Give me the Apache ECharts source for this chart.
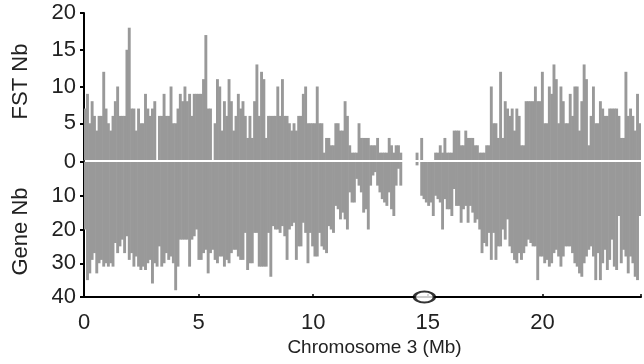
<!DOCTYPE html>
<html><head><meta charset="utf-8">
<script src="https://cdn.jsdelivr.net/npm/echarts@6/dist/echarts.min.js"></script>
<style>html,body{margin:0;padding:0;background:#fff}#c{width:644px;height:364px}</style>
</head><body><div id="c"></div>
<script>
// FST count per 100 kb bin (top panel)
const fstNb = [
7,9,5,8,6,4,6,6,12,7, 5,4,6,8,10,6,6,6,15,18, 7,7,4,7,5,5,9,7,6,7,
8,0,6,6,9,6,6,10,5,5, 7,9,8,10,8,9,6,9,9,9, 9,11,17,7,7,0,5,11,10,4,
8,6,11,8,4,6,9,7,8,6, 3,6,3,8,13,6,12,11,3,6, 6,6,6,10,6,11,6,6,5,4,
5,4,6,6,9,10,5,5,5,5, 10,5,5,1,3,3,2,2,5,5, 4,4,8,6,2,1,1,1,5,3,
3,3,3,2,2,2,3,1,1,1, 1,3,2,1,2,2,1,0,0,0, 0,0,0,1,0,3,0,0,0,0,
0,1,1,2,1,3,1,1,1,4, 4,4,2,2,4,3,3,3,2,2, 1,1,1,2,2,10,5,5,3,12,
3,8,7,6,7,4,7,6,2,2, 8,8,8,8,10,8,8,12,5,5, 10,9,13,11,5,10,8,5,5,9,
6,10,10,4,8,13,11,2,6,10, 5,5,8,7,6,6,7,7,7,7, 6,3,3,12,6,7,6,4,9,5
];
// Gene count per 100 kb bin (bottom panel, drawn downward)
const geneNb = [
20,35,33,29,27,33,30,29,31,30, 31,30,31,24,27,25,23,27,22,29, 27,31,28,31,32,31,32,30,29,36,
30,31,25,31,30,27,29,28,30,38, 31,23,23,23,23,31,23,22,20,29, 29,27,26,33,27,26,29,30,28,28,
31,29,30,27,26,26,28,29,29,21, 32,30,30,21,21,31,31,31,31,21, 34,19,20,20,21,19,22,29,20,19,
18,29,25,25,18,21,30,21,25,28, 28,21,25,26,27,19,20,21,13,14, 17,15,17,20,9,12,12,5,7,9,
15,14,20,7,4,3,7,9,11,12, 13,9,14,16,7,2,7,0,0,0, 0,0,0,1,0,10,11,12,13,12,
16,10,11,12,20,11,14,14,16,8, 13,13,18,14,13,18,13,15,18,17, 20,27,24,25,21,29,21,29,25,25,
20,23,17,25,27,29,30,27,29,27, 25,23,24,25,25,35,28,28,30,29, 31,30,27,26,28,31,28,25,25,25,
27,30,31,33,34,30,28,26,25,28, 35,27,35,30,26,32,29,23,31,32, 16,30,26,28,33,28,30,34,35,16
];
const binSizeMb = 0.1;
const bins = fstNb.map((_, i) => (i * binSizeMb).toFixed(1));
const xTicksMb = [0, 5, 10, 15, 20];
const xMaxMb = 24.3;
const fstTicks = [0, 5, 10, 15, 20];
const geneTicks = [0, 10, 20, 30, 40];
const centromereMb = [14.85];

const FONT = 'Liberation Sans, Arial, sans-serif';
const TXT = '#222';
const BAR = '#999999';

const chart = echarts.init(document.getElementById('c'), null, {renderer: 'canvas'});
chart.setOption({
  animation: false,
  backgroundColor: '#fff',
  grid: [
    {left: 84, right: 3, top: 13, height: 147},
    {left: 84, right: 3, top: 162, height: 135}
  ],
  xAxis: [
    {type: 'category', gridIndex: 0, data: bins, show: false, boundaryGap: true},
    {type: 'category', gridIndex: 1, data: bins, show: false, boundaryGap: true},
    {type: 'value', gridIndex: 1, position: 'bottom', min: 0, max: xMaxMb, interval: 5,
     name: 'Chromosome 3 (Mb)', nameLocation: 'middle', nameGap: 41,
     nameTextStyle: {fontFamily: FONT, fontSize: 19, color: TXT, padding: [0, 0, 0, 24]},
     axisLine: {show: true, lineStyle: {color: '#000', width: 2}},
     axisTick: {show: true, inside: true, length: 3, lineStyle: {color: '#000', width: 1.5},
                customValues: xTicksMb.concat([xMaxMb])},
     axisLabel: {fontFamily: FONT, fontSize: 22, color: TXT, margin: 15, customValues: xTicksMb,
                 formatter: v => xTicksMb.includes(v) ? String(v) : ''},
     splitLine: {show: false}}
  ],
  yAxis: [
    {type: 'value', gridIndex: 0, min: fstTicks[0], max: fstTicks[fstTicks.length - 1], interval: 5,
     name: 'FST Nb', nameLocation: 'middle', nameGap: 52, nameRotate: 90,
     nameTextStyle: {fontFamily: FONT, fontSize: 22, color: TXT, padding: [0, 0, 0, 10]},
     axisLine: {show: true, lineStyle: {color: '#000', width: 2}},
     axisTick: {show: true, length: 4, lineStyle: {color: '#000', width: 2}},
     axisLabel: {fontFamily: FONT, fontSize: 22, color: TXT, margin: 8, showMinLabel: false},
     splitLine: {show: false}},
    {type: 'value', gridIndex: 1, inverse: true, min: geneTicks[0], max: geneTicks[geneTicks.length - 1], interval: 10,
     name: 'Gene Nb', nameLocation: 'middle', nameGap: 52, nameRotate: 90,
     nameTextStyle: {fontFamily: FONT, fontSize: 22, color: TXT, padding: [0, 4, 0, 0]},
     axisLine: {show: true, lineStyle: {color: '#000', width: 2}},
     axisTick: {show: true, length: 4, lineStyle: {color: '#000', width: 2}},
     axisLabel: {fontFamily: FONT, fontSize: 22, color: TXT, margin: 8},
     splitLine: {show: false}}
  ],
  series: [
    {type: 'bar', xAxisIndex: 0, yAxisIndex: 0, data: fstNb, barWidth: '125%',
     itemStyle: {color: BAR}, silent: true},
    {type: 'bar', xAxisIndex: 1, yAxisIndex: 1, data: geneNb, barWidth: '125%',
     itemStyle: {color: BAR}, silent: true},
    {type: 'scatter', xAxisIndex: 2, yAxisIndex: 1, clip: false, z: 10,
     data: centromereMb.map(m => [m, geneTicks[geneTicks.length - 1]]),
     symbol: 'circle', symbolSize: [20, 11],
     itemStyle: {color: '#fff', borderColor: '#000', borderWidth: 2.5}}
  ]
});
</script>
</body></html>
